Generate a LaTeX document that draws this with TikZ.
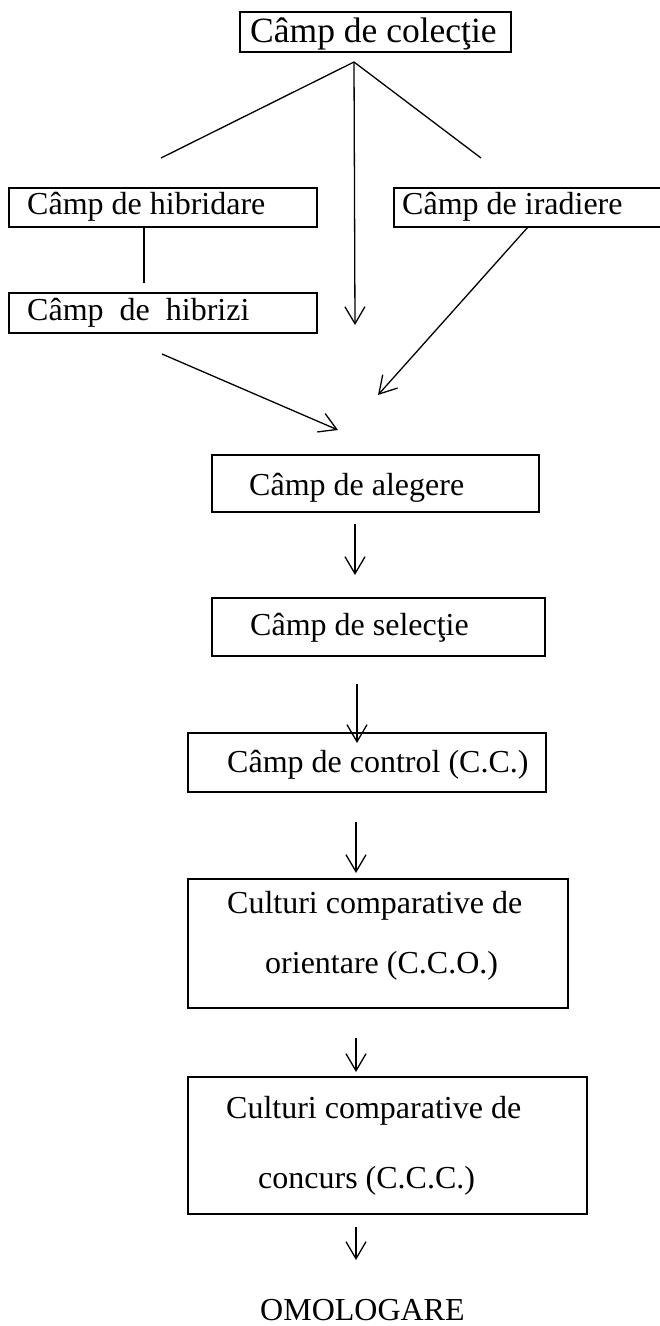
\documentclass[tikz,border=0pt]{standalone}
\usepackage{fontspec}
\setmainfont{Liberation Serif}
\usetikzlibrary{arrows.meta}
\begin{document}
\begin{tikzpicture}[x=1pt,y=-1pt,
  box/.style={draw, line width=1.4pt, anchor=north west, inner sep=0pt, outer sep=0pt},
  lbl/.style={anchor=base west, inner sep=0pt, font=\fontsize{32}{38}\selectfont},
  biglbl/.style={lbl, font=\fontsize{35.5}{42}\selectfont},
  conn/.style={line width=1.3pt},
  arr/.style={line width=1.3pt, -{Straight Barb[length=17pt,width=20pt]}}]
\useasboundingbox (0,0) rectangle (660,1326);
% boxes
\node[box, minimum width=271pt, minimum height=40pt] (colectie) at (240,12) {};
\node[box, minimum width=308pt, minimum height=39pt] (hibridare) at (9,188) {};
\node[box, minimum width=308pt, minimum height=40pt] (hibrizi) at (9,293) {};
\node[box, minimum width=300pt, minimum height=39pt] (iradiere) at (394,188) {};
\node[box, minimum width=327pt, minimum height=57pt] (alegere) at (212,455) {};
\node[box, minimum width=333pt, minimum height=58pt] (selectie) at (212,598) {};
\node[box, minimum width=358pt, minimum height=59pt] (control) at (188,733) {};
\node[box, minimum width=380pt, minimum height=129pt] (cco) at (188,879) {};
\node[box, minimum width=399pt, minimum height=137pt] (ccc) at (188,1077) {};
% texts
\node[biglbl] (tcolectie) at (250,42) {Câmp de colecţie};
\node[lbl] (thibridare) at (27,214) {Câmp de hibridare};
\node[lbl] (thibrizi) at (27,320) {Câmp\ \ de\ \ hibrizi};
\node[lbl] (tiradiere) at (402,214) {Câmp de iradiere};
\node[lbl] (talegere) at (249,495) {Câmp de alegere};
\node[lbl] (tselectie) at (250,635) {Câmp de selecţie};
\node[lbl] (tcontrol) at (227,772) {Câmp de control (C.C.)};
\node[lbl] (tcco1) at (227,913) {Culturi comparative de};
\node[lbl] (tcco2) at (265,973) {orientare (C.C.O.)};
\node[lbl] (tccc1) at (226,1118) {Culturi comparative de};
\node[lbl] (tccc2) at (258,1188) {concurs (C.C.C.)};
\node[lbl] (tomol) at (260,1320) {OMOLOGARE};
% connector endpoints
\coordinate (apex) at (354,62);
\coordinate (fanL) at (161,158);
\coordinate (fanR) at (481,158);
\coordinate (fanM) at (355,325);
\coordinate (hibA) at (144,227);
\coordinate (hibB) at (144,283);
\coordinate (hzS) at (162,354);
\coordinate (hzE) at (338,430);
\coordinate (irS) at (528,227);
\coordinate (irE) at (378,395);
\coordinate (a1s) at (355,524); \coordinate (a1e) at (355,575);
\coordinate (a2s) at (357,684); \coordinate (a2e) at (357,743);
\coordinate (a3s) at (356,822); \coordinate (a3e) at (356,873);
\coordinate (a4s) at (356,1038); \coordinate (a4e) at (356,1072);
\coordinate (a5s) at (356,1227); \coordinate (a5e) at (356,1260);
% connectors
\draw[conn] (fanL) -- (apex) -- (fanR);
\draw[arr] (apex) -- (fanM);
\draw[conn] (hibA) -- (hibB);
\draw[arr] (hzS) -- (hzE);
\draw[arr] (irS) -- (irE);
\draw[arr] (a1s) -- (a1e);
\draw[arr] (a2s) -- (a2e);
\draw[arr] (a3s) -- (a3e);
\draw[arr] (a4s) -- (a4e);
\draw[arr] (a5s) -- (a5e);
\end{tikzpicture}
\end{document}
